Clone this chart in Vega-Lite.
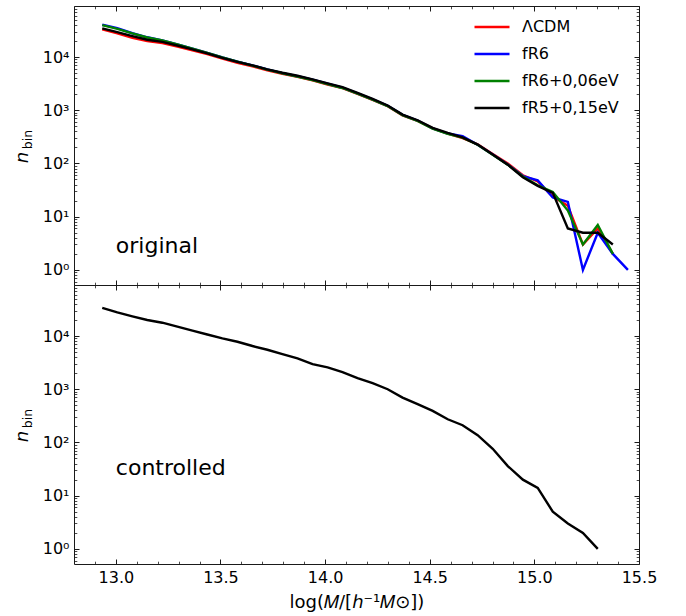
{
  "$schema": "https://vega.github.io/schema/vega-lite/v6.json",
  "autosize": {"type": "pad"},
  "padding": {"left": 12, "top": 5, "right": 48, "bottom": 5},
  "bounds": "flush",
  "spacing": 0,
  "background": "white",
  "config": {
    "font": "DejaVu Sans",
    "view": {"stroke": "#1a1a1a", "strokeWidth": 1},
    "axis": {
      "grid": false,
      "domain": false,
      "tickColor": "#1a1a1a",
      "tickWidth": 1,
      "labelFont": "DejaVu Sans",
      "labelFontSize": 16,
      "labelColor": "#000000",
      "labelFlush": false,
      "labelOverlap": false,
      "titleFont": "DejaVu Sans",
      "titleFontWeight": "normal",
      "titleColor": "#000000"
    }
  },
  "datasets": {
    "original": [
      {"model": "ΛCDM", "logM": 12.935, "n": 33100}, {"model": "ΛCDM", "logM": 13.007, "n": 28000}, {"model": "ΛCDM", "logM": 13.079, "n": 22900}, {"model": "ΛCDM", "logM": 13.15, "n": 19900}, {"model": "ΛCDM", "logM": 13.222, "n": 18300}, {"model": "ΛCDM", "logM": 13.294, "n": 15800}, {"model": "ΛCDM", "logM": 13.366, "n": 13400}, {"model": "ΛCDM", "logM": 13.437, "n": 11300}, {"model": "ΛCDM", "logM": 13.509, "n": 9300}, {"model": "ΛCDM", "logM": 13.581, "n": 7800}, {"model": "ΛCDM", "logM": 13.653, "n": 6700}, {"model": "ΛCDM", "logM": 13.724, "n": 5600}, {"model": "ΛCDM", "logM": 13.796, "n": 4850}, {"model": "ΛCDM", "logM": 13.868, "n": 4250}, {"model": "ΛCDM", "logM": 13.94, "n": 3650}, {"model": "ΛCDM", "logM": 14.012, "n": 3050}, {"model": "ΛCDM", "logM": 14.083, "n": 2600}, {"model": "ΛCDM", "logM": 14.155, "n": 2040}, {"model": "ΛCDM", "logM": 14.227, "n": 1570}, {"model": "ΛCDM", "logM": 14.299, "n": 1190}, {"model": "ΛCDM", "logM": 14.37, "n": 800}, {"model": "ΛCDM", "logM": 14.442, "n": 630}, {"model": "ΛCDM", "logM": 14.514, "n": 455}, {"model": "ΛCDM", "logM": 14.586, "n": 365}, {"model": "ΛCDM", "logM": 14.657, "n": 300}, {"model": "ΛCDM", "logM": 14.729, "n": 230}, {"model": "ΛCDM", "logM": 14.801, "n": 150}, {"model": "ΛCDM", "logM": 14.873, "n": 100}, {"model": "ΛCDM", "logM": 14.945, "n": 60}, {"model": "ΛCDM", "logM": 15.016, "n": 46}, {"model": "ΛCDM", "logM": 15.088, "n": 24}, {"model": "ΛCDM", "logM": 15.16, "n": 16}, {"model": "ΛCDM", "logM": 15.232, "n": 3}, {"model": "ΛCDM", "logM": 15.303, "n": 6}, {"model": "ΛCDM", "logM": 15.375, "n": 2},
      {"model": "fR6", "logM": 12.935, "n": 40500}, {"model": "fR6", "logM": 13.007, "n": 35000}, {"model": "fR6", "logM": 13.079, "n": 28000}, {"model": "fR6", "logM": 13.15, "n": 23500}, {"model": "fR6", "logM": 13.222, "n": 20600}, {"model": "fR6", "logM": 13.294, "n": 17300}, {"model": "fR6", "logM": 13.366, "n": 14300}, {"model": "fR6", "logM": 13.437, "n": 12000}, {"model": "fR6", "logM": 13.509, "n": 9800}, {"model": "fR6", "logM": 13.581, "n": 8200}, {"model": "fR6", "logM": 13.653, "n": 6950}, {"model": "fR6", "logM": 13.724, "n": 5850}, {"model": "fR6", "logM": 13.796, "n": 5000}, {"model": "fR6", "logM": 13.868, "n": 4350}, {"model": "fR6", "logM": 13.94, "n": 3750}, {"model": "fR6", "logM": 14.012, "n": 3150}, {"model": "fR6", "logM": 14.083, "n": 2650}, {"model": "fR6", "logM": 14.155, "n": 2080}, {"model": "fR6", "logM": 14.227, "n": 1600}, {"model": "fR6", "logM": 14.299, "n": 1210}, {"model": "fR6", "logM": 14.37, "n": 820}, {"model": "fR6", "logM": 14.442, "n": 640}, {"model": "fR6", "logM": 14.514, "n": 455}, {"model": "fR6", "logM": 14.586, "n": 365}, {"model": "fR6", "logM": 14.657, "n": 325}, {"model": "fR6", "logM": 14.729, "n": 225}, {"model": "fR6", "logM": 14.801, "n": 148}, {"model": "fR6", "logM": 14.873, "n": 96}, {"model": "fR6", "logM": 14.945, "n": 58}, {"model": "fR6", "logM": 15.016, "n": 48}, {"model": "fR6", "logM": 15.088, "n": 23}, {"model": "fR6", "logM": 15.16, "n": 19}, {"model": "fR6", "logM": 15.232, "n": 1}, {"model": "fR6", "logM": 15.303, "n": 5}, {"model": "fR6", "logM": 15.375, "n": 2}, {"model": "fR6", "logM": 15.447, "n": 1},
      {"model": "fR6+0,06eV", "logM": 12.935, "n": 39800}, {"model": "fR6+0,06eV", "logM": 13.007, "n": 33900}, {"model": "fR6+0,06eV", "logM": 13.079, "n": 27800}, {"model": "fR6+0,06eV", "logM": 13.15, "n": 23300}, {"model": "fR6+0,06eV", "logM": 13.222, "n": 20500}, {"model": "fR6+0,06eV", "logM": 13.294, "n": 17200}, {"model": "fR6+0,06eV", "logM": 13.366, "n": 14300}, {"model": "fR6+0,06eV", "logM": 13.437, "n": 12000}, {"model": "fR6+0,06eV", "logM": 13.509, "n": 9800}, {"model": "fR6+0,06eV", "logM": 13.581, "n": 8200}, {"model": "fR6+0,06eV", "logM": 13.653, "n": 6900}, {"model": "fR6+0,06eV", "logM": 13.724, "n": 5800}, {"model": "fR6+0,06eV", "logM": 13.796, "n": 4950}, {"model": "fR6+0,06eV", "logM": 13.868, "n": 4300}, {"model": "fR6+0,06eV", "logM": 13.94, "n": 3700}, {"model": "fR6+0,06eV", "logM": 14.012, "n": 3100}, {"model": "fR6+0,06eV", "logM": 14.083, "n": 2620}, {"model": "fR6+0,06eV", "logM": 14.155, "n": 2050}, {"model": "fR6+0,06eV", "logM": 14.227, "n": 1580}, {"model": "fR6+0,06eV", "logM": 14.299, "n": 1200}, {"model": "fR6+0,06eV", "logM": 14.37, "n": 810}, {"model": "fR6+0,06eV", "logM": 14.442, "n": 630}, {"model": "fR6+0,06eV", "logM": 14.514, "n": 450}, {"model": "fR6+0,06eV", "logM": 14.586, "n": 360}, {"model": "fR6+0,06eV", "logM": 14.657, "n": 305}, {"model": "fR6+0,06eV", "logM": 14.729, "n": 225}, {"model": "fR6+0,06eV", "logM": 14.801, "n": 145}, {"model": "fR6+0,06eV", "logM": 14.873, "n": 95}, {"model": "fR6+0,06eV", "logM": 14.945, "n": 57}, {"model": "fR6+0,06eV", "logM": 15.016, "n": 39}, {"model": "fR6+0,06eV", "logM": 15.088, "n": 29}, {"model": "fR6+0,06eV", "logM": 15.16, "n": 13}, {"model": "fR6+0,06eV", "logM": 15.232, "n": 3}, {"model": "fR6+0,06eV", "logM": 15.303, "n": 7}, {"model": "fR6+0,06eV", "logM": 15.375, "n": 2},
      {"model": "fR5+0,15eV", "logM": 12.935, "n": 34500}, {"model": "fR5+0,15eV", "logM": 13.007, "n": 29400}, {"model": "fR5+0,15eV", "logM": 13.079, "n": 24700}, {"model": "fR5+0,15eV", "logM": 13.15, "n": 21100}, {"model": "fR5+0,15eV", "logM": 13.222, "n": 19300}, {"model": "fR5+0,15eV", "logM": 13.294, "n": 16500}, {"model": "fR5+0,15eV", "logM": 13.366, "n": 13900}, {"model": "fR5+0,15eV", "logM": 13.437, "n": 11700}, {"model": "fR5+0,15eV", "logM": 13.509, "n": 9660}, {"model": "fR5+0,15eV", "logM": 13.581, "n": 8130}, {"model": "fR5+0,15eV", "logM": 13.653, "n": 6960}, {"model": "fR5+0,15eV", "logM": 13.724, "n": 5850}, {"model": "fR5+0,15eV", "logM": 13.796, "n": 5060}, {"model": "fR5+0,15eV", "logM": 13.868, "n": 4450}, {"model": "fR5+0,15eV", "logM": 13.94, "n": 3800}, {"model": "fR5+0,15eV", "logM": 14.012, "n": 3190}, {"model": "fR5+0,15eV", "logM": 14.083, "n": 2710}, {"model": "fR5+0,15eV", "logM": 14.155, "n": 2120}, {"model": "fR5+0,15eV", "logM": 14.227, "n": 1630}, {"model": "fR5+0,15eV", "logM": 14.299, "n": 1230}, {"model": "fR5+0,15eV", "logM": 14.37, "n": 830}, {"model": "fR5+0,15eV", "logM": 14.442, "n": 649}, {"model": "fR5+0,15eV", "logM": 14.514, "n": 465}, {"model": "fR5+0,15eV", "logM": 14.586, "n": 374}, {"model": "fR5+0,15eV", "logM": 14.657, "n": 310}, {"model": "fR5+0,15eV", "logM": 14.729, "n": 226}, {"model": "fR5+0,15eV", "logM": 14.801, "n": 147}, {"model": "fR5+0,15eV", "logM": 14.873, "n": 95}, {"model": "fR5+0,15eV", "logM": 14.945, "n": 55}, {"model": "fR5+0,15eV", "logM": 15.016, "n": 38}, {"model": "fR5+0,15eV", "logM": 15.088, "n": 28}, {"model": "fR5+0,15eV", "logM": 15.16, "n": 6}, {"model": "fR5+0,15eV", "logM": 15.232, "n": 5}, {"model": "fR5+0,15eV", "logM": 15.303, "n": 5}, {"model": "fR5+0,15eV", "logM": 15.375, "n": 3}
    ],
    "controlled": [
      {"model": "fR5+0,15eV", "logM": 12.935, "n": 33700}, {"model": "fR5+0,15eV", "logM": 13.007, "n": 27800}, {"model": "fR5+0,15eV", "logM": 13.079, "n": 23400}, {"model": "fR5+0,15eV", "logM": 13.15, "n": 20000}, {"model": "fR5+0,15eV", "logM": 13.222, "n": 17800}, {"model": "fR5+0,15eV", "logM": 13.294, "n": 15000}, {"model": "fR5+0,15eV", "logM": 13.366, "n": 12600}, {"model": "fR5+0,15eV", "logM": 13.437, "n": 10700}, {"model": "fR5+0,15eV", "logM": 13.509, "n": 9010}, {"model": "fR5+0,15eV", "logM": 13.581, "n": 7810}, {"model": "fR5+0,15eV", "logM": 13.653, "n": 6490}, {"model": "fR5+0,15eV", "logM": 13.724, "n": 5530}, {"model": "fR5+0,15eV", "logM": 13.796, "n": 4580}, {"model": "fR5+0,15eV", "logM": 13.868, "n": 3790}, {"model": "fR5+0,15eV", "logM": 13.94, "n": 2970}, {"model": "fR5+0,15eV", "logM": 14.012, "n": 2570}, {"model": "fR5+0,15eV", "logM": 14.083, "n": 2100}, {"model": "fR5+0,15eV", "logM": 14.155, "n": 1620}, {"model": "fR5+0,15eV", "logM": 14.227, "n": 1300}, {"model": "fR5+0,15eV", "logM": 14.299, "n": 1000}, {"model": "fR5+0,15eV", "logM": 14.37, "n": 698}, {"model": "fR5+0,15eV", "logM": 14.442, "n": 524}, {"model": "fR5+0,15eV", "logM": 14.514, "n": 392}, {"model": "fR5+0,15eV", "logM": 14.586, "n": 273}, {"model": "fR5+0,15eV", "logM": 14.657, "n": 211}, {"model": "fR5+0,15eV", "logM": 14.729, "n": 137}, {"model": "fR5+0,15eV", "logM": 14.801, "n": 76}, {"model": "fR5+0,15eV", "logM": 14.873, "n": 36}, {"model": "fR5+0,15eV", "logM": 14.945, "n": 20}, {"model": "fR5+0,15eV", "logM": 15.016, "n": 14}, {"model": "fR5+0,15eV", "logM": 15.088, "n": 5}, {"model": "fR5+0,15eV", "logM": 15.16, "n": 3}, {"model": "fR5+0,15eV", "logM": 15.232, "n": 2}, {"model": "fR5+0,15eV", "logM": 15.303, "n": 1}
    ]
  },
  "vconcat": [
    {
      "width": 565,
      "height": 279,
      "resolve": {"axis": {"x": "independent", "y": "independent"}},
      "layer": [
        {
          "data": {"name": "original"},
          "mark": {"type": "line", "strokeWidth": 2.4},
          "encoding": {
            "x": {"field": "logM", "type": "quantitative",
                  "scale": {"domain": [12.8, 15.5], "nice": false, "zero": false},
                  "axis": {"orient": "bottom", "values": [13, 13.5, 14, 14.5, 15, 15.5], "labels": false, "tickSize": -5, "title": null}},
            "y": {"field": "n", "type": "quantitative",
                  "scale": {"type": "log", "domain": [0.52, 91000], "nice": false},
                  "axis": {"orient": "left", "values": [1, 10, 100, 1000, 10000], "tickSize": -5, "labelPadding": 10,
                           "labelExpr": "'10' + ['⁰','¹','²','³','⁴'][round(log(datum.value) / LN10)]",
                           "title": "n", "titleFontStyle": "italic", "titleFontSize": 18,
                           "titleAngle": 270, "titleAlign": "center", "titleBaseline": "middle",
                           "titleX": -52, "titleY": 151}},
            "color": {"field": "model", "type": "nominal",
                      "scale": {"domain": ["ΛCDM", "fR6", "fR6+0,06eV", "fR5+0,15eV"], "range": ["#ff0000", "#0000ff", "#008000", "#000000"]},
                      "legend": {"orient": "none", "legendX": 399, "legendY": 2, "title": null, "padding": 0,
                                 "symbolType": "stroke", "symbolSize": 1225, "symbolStrokeWidth": 2.4,
                                 "labelFont": "DejaVu Sans", "labelFontSize": 16, "labelColor": "#000000",
                                 "labelOffset": 11, "rowPadding": -6}}
          }
        },
        {
          "data": {"values": [{}]},
          "mark": {"type": "text", "text": "original", "fontSize": 22, "align": "left", "baseline": "alphabetic", "color": "#000000"},
          "encoding": {
            "x": {"datum": 13.0, "type": "quantitative",
                  "scale": {"domain": [12.8, 15.5], "nice": false, "zero": false},
                  "axis": {"orient": "bottom", "values": [12.9, 13.1, 13.2, 13.3, 13.4, 13.6, 13.7, 13.8, 13.9, 14.1, 14.2, 14.3, 14.4, 14.6, 14.7, 14.8, 14.9, 15.1, 15.2, 15.3, 15.4], "labels": false, "tickSize": -2.8, "tickWidth": 0.8, "title": null}},
            "y": {"datum": 2.05, "type": "quantitative",
                  "scale": {"type": "log", "domain": [0.52, 91000], "nice": false},
                  "axis": {"orient": "left", "values": [0.6, 0.7, 0.8, 0.9, 2, 3, 4, 5, 6, 7, 8, 9, 20, 30, 40, 50, 60, 70, 80, 90, 200, 300, 400, 500, 600, 700, 800, 900, 2000, 3000, 4000, 5000, 6000, 7000, 8000, 9000, 20000, 30000, 40000, 50000, 60000, 70000, 80000, 90000], "labels": false, "tickSize": -2.8, "tickWidth": 0.8,
                           "title": "bin", "titleFontSize": 12.5, "titleAngle": 270, "titleAlign": "center", "titleBaseline": "middle",
                           "titleX": -47, "titleY": 133}}
          }
        },
        {
          "data": {"values": [{}]},
          "mark": {"type": "point", "opacity": 0},
          "encoding": {
            "x": {"datum": 13.0, "type": "quantitative",
                  "scale": {"domain": [12.8, 15.5], "nice": false, "zero": false},
                  "axis": {"orient": "top", "values": [13, 13.5, 14, 14.5, 15, 15.5], "labels": false, "tickSize": -5, "title": null}},
            "y": {"datum": 10, "type": "quantitative",
                  "scale": {"type": "log", "domain": [0.52, 91000], "nice": false},
                  "axis": {"orient": "right", "values": [1, 10, 100, 1000, 10000], "labels": false, "tickSize": -5, "title": null}}
          }
        },
        {
          "data": {"values": [{}]},
          "mark": {"type": "point", "opacity": 0},
          "encoding": {
            "x": {"datum": 13.0, "type": "quantitative",
                  "scale": {"domain": [12.8, 15.5], "nice": false, "zero": false},
                  "axis": {"orient": "top", "values": [12.9, 13.1, 13.2, 13.3, 13.4, 13.6, 13.7, 13.8, 13.9, 14.1, 14.2, 14.3, 14.4, 14.6, 14.7, 14.8, 14.9, 15.1, 15.2, 15.3, 15.4], "labels": false, "tickSize": -2.8, "tickWidth": 0.8, "title": null}},
            "y": {"datum": 10, "type": "quantitative",
                  "scale": {"type": "log", "domain": [0.52, 91000], "nice": false},
                  "axis": {"orient": "right", "values": [0.6, 0.7, 0.8, 0.9, 2, 3, 4, 5, 6, 7, 8, 9, 20, 30, 40, 50, 60, 70, 80, 90, 200, 300, 400, 500, 600, 700, 800, 900, 2000, 3000, 4000, 5000, 6000, 7000, 8000, 9000, 20000, 30000, 40000, 50000, 60000, 70000, 80000, 90000], "labels": false, "tickSize": -2.8, "tickWidth": 0.8, "title": null}}
          }
        }
      ]
    },
    {
      "width": 565,
      "height": 279,
      "resolve": {"axis": {"x": "independent", "y": "independent"}},
      "layer": [
        {
          "data": {"name": "controlled"},
          "mark": {"type": "line", "strokeWidth": 2.4, "color": "#000000"},
          "encoding": {
            "x": {"field": "logM", "type": "quantitative",
                  "scale": {"domain": [12.8, 15.5], "nice": false, "zero": false},
                  "axis": {"orient": "bottom", "values": [13, 13.5, 14, 14.5, 15, 15.5], "format": ".1f", "tickSize": -5, "labelPadding": 10,
                           "title": "log(𝑀/[ℎ⁻¹𝑀⊙])", "titleFontSize": 18, "titlePadding": 8}},
            "y": {"field": "n", "type": "quantitative",
                  "scale": {"type": "log", "domain": [0.52, 91000], "nice": false},
                  "axis": {"orient": "left", "values": [1, 10, 100, 1000, 10000], "tickSize": -5, "labelPadding": 10,
                           "labelExpr": "'10' + ['⁰','¹','²','³','⁴'][round(log(datum.value) / LN10)]",
                           "title": "n", "titleFontStyle": "italic", "titleFontSize": 18,
                           "titleAngle": 270, "titleAlign": "center", "titleBaseline": "middle",
                           "titleX": -52, "titleY": 151}}
          }
        },
        {
          "data": {"values": [{}]},
          "mark": {"type": "text", "text": "controlled", "fontSize": 22, "align": "left", "baseline": "alphabetic", "color": "#000000"},
          "encoding": {
            "x": {"datum": 13.0, "type": "quantitative",
                  "scale": {"domain": [12.8, 15.5], "nice": false, "zero": false},
                  "axis": {"orient": "bottom", "values": [12.9, 13.1, 13.2, 13.3, 13.4, 13.6, 13.7, 13.8, 13.9, 14.1, 14.2, 14.3, 14.4, 14.6, 14.7, 14.8, 14.9, 15.1, 15.2, 15.3, 15.4], "labels": false, "tickSize": -2.8, "tickWidth": 0.8, "title": null}},
            "y": {"datum": 24, "type": "quantitative",
                  "scale": {"type": "log", "domain": [0.52, 91000], "nice": false},
                  "axis": {"orient": "left", "values": [0.6, 0.7, 0.8, 0.9, 2, 3, 4, 5, 6, 7, 8, 9, 20, 30, 40, 50, 60, 70, 80, 90, 200, 300, 400, 500, 600, 700, 800, 900, 2000, 3000, 4000, 5000, 6000, 7000, 8000, 9000, 20000, 30000, 40000, 50000, 60000, 70000, 80000, 90000], "labels": false, "tickSize": -2.8, "tickWidth": 0.8,
                           "title": "bin", "titleFontSize": 12.5, "titleAngle": 270, "titleAlign": "center", "titleBaseline": "middle",
                           "titleX": -47, "titleY": 133}}
          }
        },
        {
          "data": {"values": [{}]},
          "mark": {"type": "point", "opacity": 0},
          "encoding": {
            "x": {"datum": 13.0, "type": "quantitative",
                  "scale": {"domain": [12.8, 15.5], "nice": false, "zero": false},
                  "axis": {"orient": "top", "values": [13, 13.5, 14, 14.5, 15, 15.5], "labels": false, "tickSize": -5, "title": null}},
            "y": {"datum": 10, "type": "quantitative",
                  "scale": {"type": "log", "domain": [0.52, 91000], "nice": false},
                  "axis": {"orient": "right", "values": [1, 10, 100, 1000, 10000], "labels": false, "tickSize": -5, "title": null}}
          }
        },
        {
          "data": {"values": [{}]},
          "mark": {"type": "point", "opacity": 0},
          "encoding": {
            "x": {"datum": 13.0, "type": "quantitative",
                  "scale": {"domain": [12.8, 15.5], "nice": false, "zero": false},
                  "axis": {"orient": "top", "values": [12.9, 13.1, 13.2, 13.3, 13.4, 13.6, 13.7, 13.8, 13.9, 14.1, 14.2, 14.3, 14.4, 14.6, 14.7, 14.8, 14.9, 15.1, 15.2, 15.3, 15.4], "labels": false, "tickSize": -2.8, "tickWidth": 0.8, "title": null}},
            "y": {"datum": 10, "type": "quantitative",
                  "scale": {"type": "log", "domain": [0.52, 91000], "nice": false},
                  "axis": {"orient": "right", "values": [0.6, 0.7, 0.8, 0.9, 2, 3, 4, 5, 6, 7, 8, 9, 20, 30, 40, 50, 60, 70, 80, 90, 200, 300, 400, 500, 600, 700, 800, 900, 2000, 3000, 4000, 5000, 6000, 7000, 8000, 9000, 20000, 30000, 40000, 50000, 60000, 70000, 80000, 90000], "labels": false, "tickSize": -2.8, "tickWidth": 0.8, "title": null}}
          }
        }
      ]
    }
  ]
}
